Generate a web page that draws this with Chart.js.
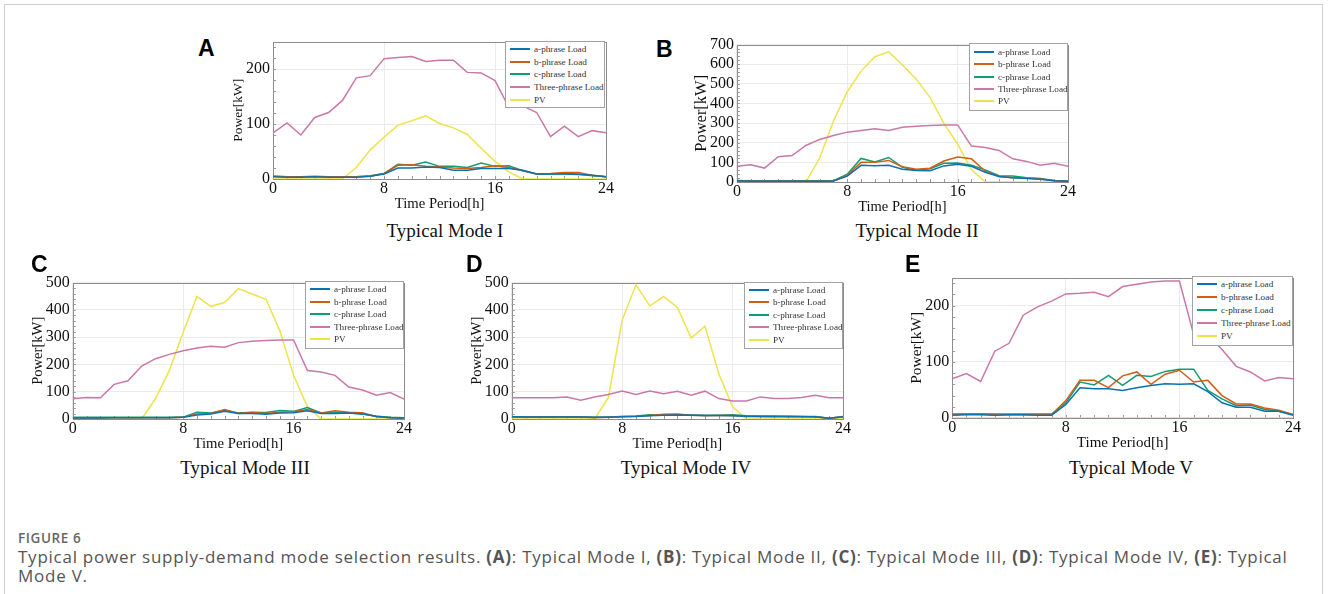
<!DOCTYPE html>
<html>
<head>
<meta charset="utf-8">
<script src="https://cdn.jsdelivr.net/npm/chart.js@4.4.1/dist/chart.umd.min.js"></script>
<style>
  body { margin:0; background:#fff; width:1328px; height:594px; overflow:hidden; position:relative; font-family:"Liberation Serif", "Times New Roman", serif; }
  .frame { position:absolute; left:4px; top:4px; width:1319px; height:620px; border:1px solid #cfcfcf; box-sizing:border-box; }
  canvas { position:absolute; }
  .letter { position:absolute; font:bold 23px "Liberation Sans", Arial, sans-serif; line-height:1; color:#000; }
  .mode { position:absolute; font-size:19px; line-height:1; transform:translateX(-50%); white-space:nowrap; color:#111; }
  .legend { position:absolute; background:#fff; border:1px solid #a3a3a3; box-sizing:border-box; font-size:9.2px; color:#333; }
  .legend .sw { position:absolute; left:4px; width:20px; height:2px; }
  .legend .tx { position:absolute; left:28px; line-height:10px; white-space:nowrap; }
  .cap-head { position:absolute; left:18px; top:529px; font:600 13.5px "Open Sans", sans-serif; color:#666; letter-spacing:0.6px; }
  .cap-text { position:absolute; left:18px; top:547px; font:17px "Open Sans", sans-serif; line-height:19px; color:#555; white-space:nowrap; }
</style>
</head>
<body>
<div class="frame"></div>
<div class="cap-head">FIGURE 6</div>
<div class="cap-text"><span id="line1">Typical power supply-demand mode selection results. <b>(A)</b>: Typical Mode I, <b>(B)</b>: Typical Mode II, <b>(C)</b>: Typical Mode III, <b>(D)</b>: Typical Mode IV, <b>(E)</b>: Typical</span><br>Mode V.</div>
<script>
const hours = [0,1,2,3,4,5,6,7,8,9,10,11,12,13,14,15,16,17,18,19,20,21,22,23,24];
const seriesNames = ['a-phrase Load', 'b-phrase Load', 'c-phrase Load', 'Three-phrase Load', 'PV'];
const seriesColors = ['#0b72b0', '#d35d12', '#0f9d75', '#c978a8', '#efe34a'];

// Typical Mode I
const A_a     = [4,3,3,4,3,3,3,5,9,20,20,22,21,16,16,19,19,19,16,9,9,9,8,7,4];
const A_b     = [5,4,4,5,4,4,4,5,10,25,26,23,22,20,19,21,24,21,15,9,10,12,12,7,4];
const A_c     = [5,4,4,4,4,4,4,6,10,27,25,31,23,23,21,29,23,24,15,9,9,10,9,6,4];
const A_three = [84,102,80,112,121,143,184,188,219,221,223,214,216,216,194,193,179,130,133,121,77,96,77,88,84];
const A_pv    = [0,0,0,0,0,0,21,53,76,98,106,115,101,93,81,56,32,13,0,0,0,0,0,0,0];

// Typical Mode II
const B_a     = [5,4,4,4,4,4,4,5,30,85,83,85,65,58,57,82,90,80,50,28,22,18,14,6,4];
const B_b     = [5,4,4,4,4,4,4,5,35,100,100,110,78,65,70,107,127,118,55,28,22,20,15,6,4];
const B_c     = [8,6,6,6,6,6,6,7,40,120,102,125,75,60,68,95,97,85,62,32,30,22,18,8,5];
const B_three = [80,88,71,129,135,186,217,237,254,262,271,262,279,284,288,291,291,183,176,161,118,105,85,96,80];
const B_pv    = [0,0,0,0,0,0,122,311,460,565,638,663,596,524,431,299,193,63,0,0,0,0,0,0,0];

// Typical Mode III
const C_a     = [4,4,4,5,5,5,5,5,6,15,18,28,20,20,17,22,23,30,20,20,22,18,10,5,4];
const C_b     = [4,4,4,5,5,5,5,5,6,18,20,35,20,24,20,25,27,35,22,30,25,23,8,5,4];
const C_c     = [6,6,6,6,6,6,6,6,7,25,22,32,22,25,24,31,28,42,22,25,22,18,10,6,5];
const C_three = [74,79,78,127,140,194,221,237,250,260,267,263,280,285,288,290,290,178,172,160,117,106,87,97,73];
const C_pv    = [0,0,0,0,0,0,75,178,318,449,413,427,478,458,439,324,160,45,0,0,0,0,0,0,0];

// Typical Mode IV
const D_a     = [8,7,7,7,7,7,6,6,8,9,12,14,15,14,13,13,12,10,9,9,8,8,8,3,8];
const D_b     = [6,6,7,7,7,7,5,6,9,10,13,17,18,14,12,13,13,9,9,8,10,9,7,3,7];
const D_c     = [8,8,7,7,7,7,6,7,9,11,16,15,16,15,14,14,16,12,11,11,10,9,9,3,9];
const D_three = [78,78,78,78,81,69,81,90,103,90,103,93,102,87,102,75,66,66,81,75,75,79,87,78,78];
const D_pv    = [0,0,0,0,0,0,0,78,363,492,415,449,409,297,340,166,45,0,0,0,0,0,0,0,0];

// Typical Mode V
const E_a     = [5,6,6,5,6,6,5,5,24,54,52,52,49,54,58,61,60,61,47,27,19,19,12,12,5];
const E_b     = [6,7,7,6,6,6,6,6,31,67,67,54,75,82,60,78,85,64,67,40,25,25,18,14,6];
const E_c     = [7,7,7,7,7,7,7,7,27,64,59,76,58,76,74,83,87,87,49,34,22,23,15,12,6];
const E_three = [70,79,65,119,133,183,198,208,221,222,224,216,234,238,242,244,244,149,148,122,92,82,66,72,70];
const E_pv    = [0,0,0,0,0,0,0,0,0,0,0,0,0,0,0,0,0,0,0,0,0,0,0,0,0];

const xTicks = [0, 8, 16, 24];
const yMaxes = { A: 250, B: 700, C: 500, D: 500, E: 250 };
const modeNames = { A: 'Typical Mode I', B: 'Typical Mode II', C: 'Typical Mode III', D: 'Typical Mode IV', E: 'Typical Mode V' };

// page layout of each panel (plot box, text spots)
const panels = [
  { id: 'A', series: [A_a, A_b, A_c, A_three, A_pv], box: [273, 41, 606, 179], titleSize: 13.5, xTitleSize: 14.7,
    letter: [198, 37], mode: [445, 221], legend: [505, 41, 100, 67, 8, 12.7] },
  { id: 'B', series: [B_a, B_b, B_c, B_three, B_pv], box: [737, 44, 1068, 182], titleSize: 16.5, xTitleSize: 14.5,
    letter: [656, 38], mode: [917, 221], legend: [969, 43, 99, 68, 9, 12.3] },
  { id: 'C', series: [C_a, C_b, C_c, C_three, C_pv], box: [73, 282, 404, 419], titleSize: 14.6, xTitleSize: 14.7,
    letter: [31, 253], mode: [245, 458], legend: [305, 281, 99, 68, 8, 12.5] },
  { id: 'D', series: [D_a, D_b, D_c, D_three, D_pv], box: [512, 282, 843, 419], titleSize: 14.6, xTitleSize: 14.7,
    letter: [466, 253], mode: [686, 458], legend: [744, 282, 99, 67, 7.5, 12.5] },
  { id: 'E', series: [E_a, E_b, E_c, E_three, E_pv], box: [952, 277, 1293, 418], titleSize: 15.4, xTitleSize: 15,
    letter: [905, 253], mode: [1131, 458], legend: [1192, 276, 101, 70, 8, 13] }
];

// plot frame with small inward minor ticks
const framePlugin = {
  id: 'frame',
  beforeDatasetsDraw(chart) {
    const { ctx, chartArea: a, scales } = chart;
    ctx.save();
    ctx.strokeStyle = '#8c8c8c';
    ctx.lineWidth = 1;
    ctx.strokeRect(Math.round(a.left) + 0.5, Math.round(a.top) + 0.5, Math.round(a.right - a.left), Math.round(a.bottom - a.top));
    ctx.strokeStyle = '#9a9a9a';
    ctx.beginPath();
    for (let h = 1; h < 24; h++) {
      const x = Math.round(scales.x.getPixelForValue(h)) + 0.5;
      ctx.moveTo(x, a.bottom); ctx.lineTo(x, a.bottom - 3);
    }
    const yMax = scales.y.max;
    for (let v = 20; v < yMax; v += 20) {
      const y = Math.round(scales.y.getPixelForValue(v)) + 0.5;
      ctx.moveTo(a.left, y); ctx.lineTo(a.left + 3, y);
    }
    ctx.stroke();
    ctx.restore();
  }
};

panels.forEach(p => {
  const [l, t, r, b] = p.box;
  const padTop = 12, padRight = 12, padBottom = 4;
  const yAxisW = 35 + p.titleSize * 1.2 / 2 + 4;
  const xAxisH = 34;
  const cv = document.createElement('canvas');
  cv.width = Math.round(r - l + yAxisW + padRight);
  cv.height = Math.round(b - t + padTop + xAxisH + padBottom);
  cv.style.left = (l - yAxisW) + 'px';
  cv.style.top = (t - padTop) + 'px';
  document.body.appendChild(cv);

  new Chart(cv.getContext('2d'), {
    type: 'line',
    data: {
      datasets: p.series.map((vals, i) => ({
        label: seriesNames[i],
        data: vals.map((v, k) => ({ x: hours[k], y: v })),
        borderColor: seriesColors[i],
        borderWidth: 1.5,
        pointRadius: 0,
        tension: 0,
        fill: false
      }))
    },
    options: {
      responsive: false,
      animation: false,
      devicePixelRatio: 1,
      layout: { padding: { left: 0, top: padTop, right: padRight, bottom: padBottom } },
      plugins: { legend: { display: false }, tooltip: { enabled: false } },
      scales: {
        x: {
          type: 'linear', min: 0, max: 24,
          afterBuildTicks: s => { s.ticks = xTicks.map(v => ({ value: v })); },
          afterFit: s => { s.height = xAxisH; },
          grid: { color: '#ebebeb', drawTicks: false },
          border: { display: false },
          ticks: { padding: 0, maxRotation: 0, autoSkip: false, color: '#111',
                   font: { family: 'Liberation Serif', size: 16 } },
          title: { display: true, text: 'Time Period[h]', color: '#111', padding: { top: 0, bottom: 0 },
                   font: { family: 'Liberation Serif', size: p.xTitleSize } }
        },
        y: {
          min: 0, max: yMaxes[p.id],
          afterFit: s => { s.width = yAxisW; },
          grid: { color: '#ebebeb', drawTicks: false },
          border: { display: false },
          ticks: { stepSize: 100, includeBounds: false, autoSkip: false, padding: 3, color: '#111',
                   font: { family: 'Liberation Serif', size: 16 } },
          title: { display: true, text: 'Power[kW]', color: '#111', padding: { top: 4, bottom: 4 },
                   font: { family: 'Liberation Serif', size: p.titleSize } }
        }
      }
    },
    plugins: [framePlugin]
  });

  const letter = document.createElement('div');
  letter.className = 'letter';
  letter.textContent = p.id;
  letter.style.left = p.letter[0] + 'px';
  letter.style.top = p.letter[1] + 'px';
  document.body.appendChild(letter);

  const mode = document.createElement('div');
  mode.className = 'mode';
  mode.textContent = modeNames[p.id];
  mode.style.left = p.mode[0] + 'px';
  mode.style.top = p.mode[1] + 'px';
  document.body.appendChild(mode);

  const [gl, gt, gw, gh, first, gap] = p.legend;
  const lg = document.createElement('div');
  lg.className = 'legend';
  lg.style.left = gl + 'px'; lg.style.top = gt + 'px';
  lg.style.width = gw + 'px'; lg.style.height = gh + 'px';
  seriesNames.forEach((name, i) => {
    const cy = first + gap * i - 1;
    const sw = document.createElement('div');
    sw.className = 'sw';
    sw.style.top = (cy - 1) + 'px';
    sw.style.background = seriesColors[i];
    const tx = document.createElement('div');
    tx.className = 'tx';
    tx.style.top = (cy - 5) + 'px';
    tx.textContent = name;
    lg.appendChild(sw); lg.appendChild(tx);
  });
  document.body.appendChild(lg);
});

// stretch the caption's first line to the width it has in the figure
const line1 = document.getElementById('line1');
const capText = line1.parentNode;
const w0 = line1.getBoundingClientRect().width;
const nChars = line1.textContent.length;
capText.style.letterSpacing = ((1270 - w0) / nChars).toFixed(2) + 'px';
</script>
</body>
</html>
